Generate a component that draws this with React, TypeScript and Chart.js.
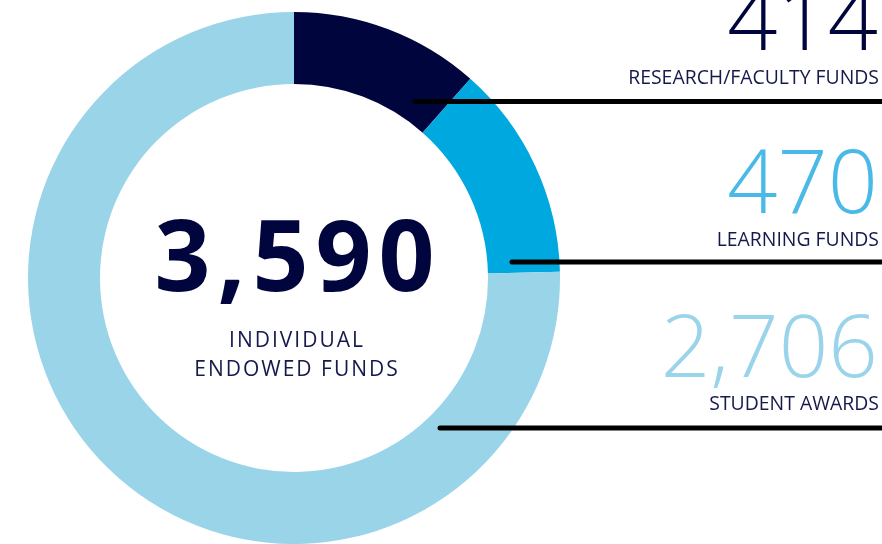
import React, { useEffect, useRef } from "react";
import { Chart, registerables } from "chart.js";

Chart.register(...registerables);

const categories = ["Research/Faculty Funds", "Learning Funds", "Student Awards"];
const labelsUpper = ["RESEARCH/FACULTY FUNDS", "LEARNING FUNDS", "STUDENT AWARDS"];
const fundCounts = [414, 470, 2706];
const segmentColors = ["#00053D", "#00A8E0", "#99D4E9"];
const numberColors = ["#00053D", "#49B9E7", "#9AD4EA"];
const totalLabel = ["INDIVIDUAL", "ENDOWED FUNDS"];

const W = 882;
const H = 544;
const NAVY = "#00053D";
const FONT = '"Open Sans", "Noto Sans", sans-serif';

// leader lines: [startX, y]
const leaders: [number, number][] = [
  [415, 101.5],
  [512, 262],
  [440, 428],
];

const fmt = (n: number) => n.toLocaleString("en-US");

const leaderPlugin = {
  id: "leaders",
  afterDraw(chart: any) {
    const ctx = chart.ctx as CanvasRenderingContext2D;
    ctx.save();
    ctx.strokeStyle = "#000000";
    ctx.lineWidth = 5;
    ctx.lineCap = "round";
    leaders.forEach(([x, y]) => {
      ctx.beginPath();
      ctx.moveTo(x, y);
      ctx.lineTo(W + 10, y);
      ctx.stroke();
    });
    ctx.restore();
  },
};

export default function App() {
  const ref = useRef<HTMLCanvasElement | null>(null);

  useEffect(() => {
    if (!ref.current) return;
    const chart = new Chart(ref.current, {
      type: "doughnut",
      data: {
        labels: categories,
        datasets: [
          {
            data: fundCounts,
            backgroundColor: segmentColors,
            borderWidth: 0,
            hoverOffset: 0,
          },
        ],
      },
      options: {
        responsive: false,
        animation: false,
        cutout: 194,
        layout: { padding: { left: 28, right: W - 560, top: 12, bottom: 0 } },
        plugins: {
          legend: { display: false },
          tooltip: { enabled: false },
        },
      },
      plugins: [leaderPlugin],
    });
    return () => chart.destroy();
  }, []);

  const total = fundCounts.reduce((a, b) => a + b, 0);

  const numTops = [-28, 135, 300];
  const numSizes = [88, 88, 87];
  const labelTops = [66.5, 228.5, 392.5];

  return (
    <div
      style={{
        position: "fixed",
        left: 0,
        top: 0,
        width: W,
        height: H,
        overflow: "hidden",
        background: "#ffffff",
        fontFamily: FONT,
      }}
    >
      <canvas ref={ref} width={W} height={H} style={{ position: "absolute", left: 0, top: 0 }} />
      {fundCounts.map((v, i) => (
        <React.Fragment key={i}>
          <div
            style={{
              position: "absolute",
              right: 4,
              top: numTops[i],
              fontSize: numSizes[i],
              lineHeight: 1,
              fontWeight: 300,
              color: numberColors[i],
              whiteSpace: "nowrap",
            }}
          >
            {fmt(v)}
          </div>
          <div
            style={{
              position: "absolute",
              right: 3,
              top: labelTops[i],
              fontSize: 19.4,
              lineHeight: 1,
              fontWeight: 400,
              color: "#141a4c",
              whiteSpace: "nowrap",
            }}
          >
            {labelsUpper[i]}
          </div>
        </React.Fragment>
      ))}
      <div
        style={{
          position: "absolute",
          left: 98,
          width: 400,
          top: 204,
          textAlign: "center",
          fontSize: 98,
          lineHeight: 1,
          fontWeight: 700,
          letterSpacing: 7,
          color: NAVY,
        }}
      >
        {fmt(total)}
      </div>
      <div
        style={{
          position: "absolute",
          left: 97,
          width: 400,
          top: 325,
          textAlign: "center",
          fontSize: 21,
          lineHeight: "29px",
          fontWeight: 400,
          letterSpacing: 2,
          color: "#141a4c",
        }}
      >
        {totalLabel.map((t, i) => (
          <div key={i}>{t}</div>
        ))}
      </div>
    </div>
  );
}
